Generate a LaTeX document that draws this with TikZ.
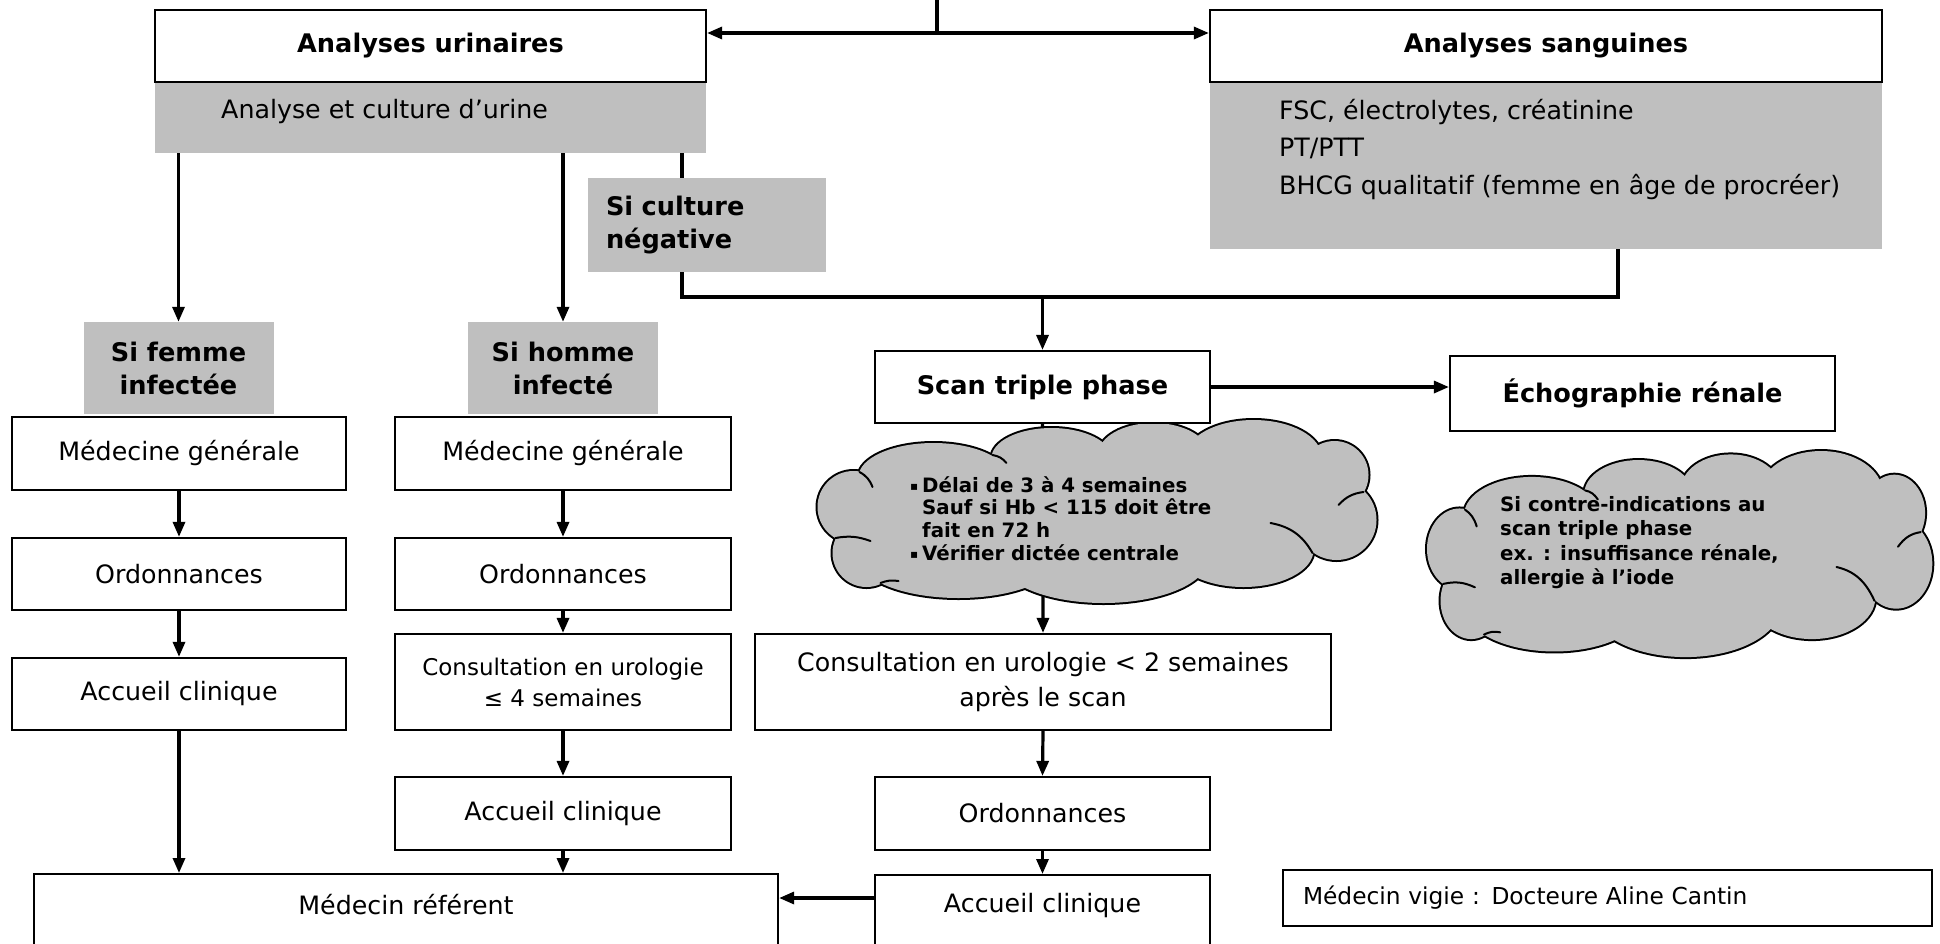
\documentclass[tikz,border=0pt]{standalone}
\usepackage{fontspec}
\setmainfont{DejaVu Sans}
\usetikzlibrary{arrows.meta,backgrounds,calc}
\definecolor{gfill}{HTML}{BFBFBF}
\newcommand\fNorm{\fontsize{25.3}{31}\selectfont}
\newcommand\fBold{\fontsize{25.6}{33}\selectfont\bfseries}
\newcommand\fCloudA{\fontsize{19.8}{22.7}\selectfont\bfseries}
\newcommand\fCloudB{\fontsize{19.8}{24.5}\selectfont\bfseries}
\newcommand\fSmall{\fontsize{23}{31}\selectfont}
\newcommand\cbul{\makebox[12pt][l]{\fontsize{12}{12}\selectfont\raisebox{2pt}{▪}}}
% puffs of the cloud: x/y/xradius/yradius, relative to centre
\def\cpuffs{-245/-8/36/36, -232/38/34/34, -140/43/100/40, 5/43/105/45, 145/35/70/37, 238/5/40/40, 236/-40/34/34, 155/-58/68/37, 55/-61/55/31, -47/-57/60/30, -165/-38/75/34}
\newcommand\wordcloud[4]{%
  \begin{scope}[shift={(#1,#2)}, xscale=#3, yscale=#4]
    \foreach \cx/\cy/\ca/\cb in \cpuffs {\draw[line width=4pt] (\cx,\cy) ellipse [x radius=\ca, y radius=\cb];}
    \foreach \cx/\cy/\ca/\cb in \cpuffs {\fill[gfill] (\cx,\cy) ellipse [x radius=\ca, y radius=\cb];}
    \fill[gfill] (-245,-8) -- (-232,38) -- (-140,43) -- (5,43) -- (145,35) -- (238,5) -- (236,-40) -- (155,-58) -- (55,-61) -- (-47,-57) -- (-165,-38) -- cycle;
    \draw[line width=2pt, line cap=round] (-239,-43) to[bend left=20] (-226,-28);
    \draw[line width=2pt, line cap=round] (-106,-60) to[bend left=20] (-92,-52);
    \draw[line width=2pt, line cap=round] (-263,23) to[bend left=15] (-228,26);
    \draw[line width=2pt, line cap=round] (-218,68) to[bend left=15] (-200,66);
    \draw[line width=2pt, line cap=round] (265,-23) to[bend right=20] (240,-10);
    \draw[line width=2pt, line cap=round] (214,38) to[bend right=25] (172,8);
  \end{scope}}
\begin{document}
\begin{tikzpicture}[x=1pt,y=-1pt,
  box/.style={draw=black, line width=2.2pt, fill=white, inner sep=0pt, font=\fNorm},
  gbox/.style={fill=gfill, inner sep=0pt},
  conn/.style={line width=3.2pt},
  arr/.style={conn, -{Triangle[length=15pt,width=12pt]}}
]
\useasboundingbox (0,0) rectangle (1940,943);
\clip (0,0) rectangle (1940,943);

% Analyses urinaires
\node[gbox, minimum width=551pt, minimum height=71pt] (urinG) at (430.5,117.5) {};
\node[box, minimum width=551pt, minimum height=72pt, font=\fBold] (urin) at (430.5,46) {Analyses urinaires};
\node[anchor=west, inner sep=0pt, font=\fNorm] (urinT) at (221,112) {Analyse et culture d’urine};

% Analyses sanguines
\node[gbox, minimum width=672pt, minimum height=167pt] (sangG) at (1546,165.5) {};
\node[box, minimum width=672pt, minimum height=72pt, font=\fBold] (sang) at (1546,46) {Analyses sanguines};
\node[anchor=north west, align=left, inner sep=0pt, font=\fontsize{25.3}{37.5}\selectfont] (sangT) at (1279,99) {FSC, électrolytes, créatinine\\PT/PTT\\BHCG qualitatif (femme en âge de procréer)};

% condition labels
\node[gbox, minimum width=238pt, minimum height=94pt, text width=202pt, align=left, font=\fBold] (culture) at (707,225) {Si culture\\négative};
\node[gbox, minimum width=190pt, minimum height=92pt, align=center, font=\fBold] (femmeG) at (178.5,368) {Si femme\\infectée};
\node[gbox, minimum width=190pt, minimum height=92pt, align=center, font=\fBold] (hommeG) at (563,368) {Si homme\\infecté};

% column 1
\node[box, minimum width=334pt, minimum height=73pt] (mg1) at (179,453.5) {Médecine générale};
\node[box, minimum width=334pt, minimum height=72pt] (or1) at (179,574) {Ordonnances};
\node[box, minimum width=334pt, minimum height=72pt] (ac1) at (179,694) {Accueil clinique};

% column 2
\node[box, minimum width=336pt, minimum height=73pt] (mg2) at (563,453.5) {Médecine générale};
\node[box, minimum width=336pt, minimum height=72pt] (or2) at (563,574) {Ordonnances};
\node[box, minimum width=336pt, minimum height=96pt, align=center, font=\fSmall] (cs2) at (563,682) {Consultation en urologie\\≤ 4 semaines};
\node[box, minimum width=336pt, minimum height=73pt] (ac2) at (563,813.5) {Accueil clinique};

% referent
\node[box, anchor=north, minimum width=744pt, text height=40pt, text depth=70pt] (ref) at (406,873) {Médecin référent};

% clouds
\wordcloud{1098.5}{515}{1}{1}
\node[anchor=north west, align=left, inner sep=0pt, font=\fCloudA] (cloudAT) at (910,476) {\cbul Délai de 3 à 4 semaines\\\hspace*{12pt}Sauf si Hb < 115 doit être\\\hspace*{12pt}fait en 72 h\\\cbul Vérifier dictée centrale};
\wordcloud{1681}{558}{0.904}{1.126}
\node[anchor=north west, align=left, inner sep=0pt, font=\fCloudB] (cloudBT) at (1500,496) {Si contre-indications au\\scan triple phase\\ex. : insuffisance rénale,\\allergie à l’iode};

% column 3
\node[box, minimum width=335pt, minimum height=72pt, font=\fBold] (scan) at (1042.5,387) {Scan triple phase};
\node[box, minimum width=385pt, minimum height=75pt, font=\fBold] (echo) at (1642.5,393.5) {Échographie rénale};
\node[box, minimum width=576pt, minimum height=96pt, align=center, font=\fontsize{25.3}{34.5}\selectfont] (cs3) at (1043,682) {Consultation en urologie < 2 semaines\\après le scan};
\node[box, minimum width=335pt, minimum height=73pt] (or3) at (1042.5,813.5) {Ordonnances};
\node[box, anchor=north, minimum width=335pt, text height=37pt, text depth=70pt] (ac3) at (1042.5,874) {Accueil clinique};

% vigie
\node[box, minimum width=649pt, minimum height=56pt, text width=609pt, align=left, font=\fontsize{23.3}{28}\selectfont] (vigie) at (1607.5,898) {Médecin vigie : Docteure Aline Cantin};

% connectors
\coordinate (jtop) at (937,0);
\coordinate (jmid) at (937,33);
\coordinate (jneg) at (682,297);
\coordinate (jsan) at (1618,297);
\coordinate (jref) at (0,898);
\draw[conn] (jtop) -- (jmid);
\draw[arr] (jmid) -- (jmid -| urin.east);
\draw[arr] (jmid) -- (jmid -| sang.west);
\draw[arr] (urinG.south -| femmeG.north) -- (femmeG.north);
\draw[arr] (urinG.south -| hommeG.north) -- (hommeG.north);
\begin{pgfonlayer}{background}
\draw[conn] (urinG.south -| jneg) -- (jneg) -- (jsan) -- (sangG.south -| jsan);
\draw[arr] (scan.south) -- (cs3.north);
\end{pgfonlayer}
\draw[arr] (jneg -| scan.north) -- (scan.north);
\draw[arr] (mg1.south) -- (or1.north);
\draw[arr] (or1.south) -- (ac1.north);
\draw[arr] (ac1.south) -- (ac1.south |- ref.north);
\draw[arr] (mg2.south) -- (or2.north);
\draw[arr] (or2.south) -- (cs2.north);
\draw[arr] (cs2.south) -- (ac2.north);
\draw[arr] (ac2.south) -- (ac2.south |- ref.north);
\draw[arr] (scan.east) -- (scan.east -| echo.west);
\draw[arr] (cs3.south) -- (or3.north);
\draw[arr] (or3.south) -- (ac3.north);
\draw[arr] (ac3.west |- jref) -- (ref.east |- jref);
\end{tikzpicture}
\end{document}
